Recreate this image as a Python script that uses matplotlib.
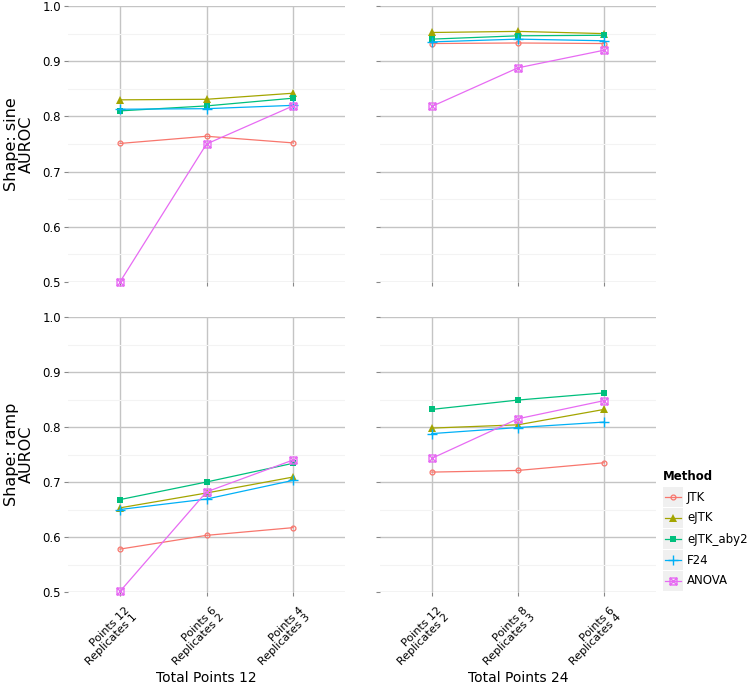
import numpy as np
import matplotlib
matplotlib.use("Agg")
import matplotlib.pyplot as plt
import matplotlib.transforms as mtransforms
from matplotlib import font_manager
from matplotlib.path import Path
from matplotlib.lines import Line2D
from matplotlib.patches import Rectangle

# data
methods = ["JTK", "eJTK", "eJTK_aby2", "F24", "ANOVA"]
labels_12 = ["Points 12\nReplicates 1", "Points 6\nReplicates 2", "Points 4\nReplicates 3"]
labels_24 = ["Points 12\nReplicates 2", "Points 8\nReplicates 3", "Points 6\nReplicates 4"]

sine_12 = {
    "JTK":       [0.751, 0.764, 0.752],
    "eJTK":      [0.830, 0.831, 0.842],
    "eJTK_aby2": [0.810, 0.819, 0.833],
    "F24":       [0.813, 0.814, 0.820],
    "ANOVA":     [0.500, 0.750, 0.819],
}
sine_24 = {
    "JTK":       [0.932, 0.933, 0.932],
    "eJTK":      [0.952, 0.954, 0.950],
    "eJTK_aby2": [0.940, 0.946, 0.947],
    "F24":       [0.935, 0.940, 0.937],
    "ANOVA":     [0.818, 0.888, 0.920],
}
ramp_12 = {
    "JTK":       [0.578, 0.603, 0.617],
    "eJTK":      [0.653, 0.680, 0.709],
    "eJTK_aby2": [0.668, 0.700, 0.734],
    "F24":       [0.650, 0.669, 0.703],
    "ANOVA":     [0.501, 0.682, 0.740],
}
ramp_24 = {
    "JTK":       [0.718, 0.721, 0.735],
    "eJTK":      [0.798, 0.804, 0.832],
    "eJTK_aby2": [0.832, 0.849, 0.862],
    "F24":       [0.788, 0.799, 0.809],
    "ANOVA":     [0.743, 0.815, 0.848],
}

colors = {"JTK": "#F8766D", "eJTK": "#A3A500", "eJTK_aby2": "#00BF7D",
          "F24": "#00B0F6", "ANOVA": "#E76BF3"}

# narrow font for the x labels if one is around
narrow = "DejaVu Sans"
for fam in ["DejaVu Sans Condensed", "Liberation Sans Narrow"]:
    try:
        font_manager.findfont(font_manager.FontProperties(family=fam), fallback_to_default=False)
        narrow = fam
        break
    except Exception:
        pass

# square with a cross, like ggplot shape 7
boxx = Path([(-1, -1), (1, -1), (1, 1), (-1, 1), (-1, -1), (-1, -1), (1, 1), (-1, 1), (1, -1)],
            [Path.MOVETO, Path.LINETO, Path.LINETO, Path.LINETO, Path.CLOSEPOLY,
             Path.MOVETO, Path.LINETO, Path.MOVETO, Path.LINETO])

styles = {
    "JTK":       dict(marker="o", ms=3.5, mfc="none", mew=0.9),
    "eJTK":      dict(marker="^", ms=5.5, mew=0),
    "eJTK_aby2": dict(marker="s", ms=4.5, mew=0),
    "F24":       dict(marker="+", ms=7, mew=1.0),
    "ANOVA":     dict(marker=boxx, ms=5, mfc="none", mew=1.0),
}

W, H = 750, 685
fig = plt.figure(figsize=(W / 100, H / 100), dpi=100)

def px_axes(x0, y0, x1, y1):
    return fig.add_axes([x0 / W, 1 - y1 / H, (x1 - x0) / W, (y1 - y0) / H])

panels = [
    (px_axes(68, 6, 345, 282), sine_12, labels_12, "Shape: sine\nAUROC"),
    (px_axes(380, 6, 656, 282), sine_24, labels_24, None),
    (px_axes(68, 317, 345, 592), ramp_12, labels_12, "Shape: ramp\nAUROC"),
    (px_axes(380, 317, 656, 592), ramp_24, labels_24, None),
]

shift = mtransforms.ScaledTranslation(5 / 100, -6 / 100, fig.dpi_scale_trans)

x = np.arange(1, 4)
for i, (ax, data, xlabels, ylab) in enumerate(panels):
    ax.set_xlim(0.4, 3.6)
    ax.set_ylim(0.5, 1.0)
    ax.set_yticks(np.arange(0.5, 1.01, 0.1))
    ax.set_yticks(np.arange(0.55, 1.0, 0.1), minor=True)
    ax.set_xticks(x)
    ax.grid(True, which="major", color="#C4C4C4", lw=1.0)
    ax.grid(True, which="minor", axis="y", color="#F3F3F3", lw=0.8)
    ax.set_axisbelow(True)
    for s in ax.spines.values():
        s.set_visible(False)
    ax.tick_params(which="major", length=3, color="#888888", labelsize=8.5, pad=2)
    ax.tick_params(which="minor", length=0)
    if i in (0, 2):
        ax.set_yticklabels(["%.1f" % v for v in np.arange(0.5, 1.01, 0.1)])
        ax.set_ylabel(ylab, fontsize=11.5, labelpad=6, linespacing=1.0)
    else:
        ax.set_yticklabels([])
    if i >= 2:
        ax.set_xticklabels(xlabels, rotation=45, ha="right", va="top", rotation_mode="anchor",
                           fontsize=8, family=narrow, linespacing=1.0)
        for t in ax.get_xticklabels():
            t.set_transform(t.get_transform() + shift)
    else:
        ax.set_xticklabels([])
    for m in methods:
        ax.plot(x, data[m], color=colors[m], lw=0.9, clip_on=False, zorder=3,
                mec=colors[m], mfc=styles[m].get("mfc", colors[m]),
                **{k: v for k, v in styles[m].items() if k != "mfc"})

fig.text(206 / W, 1 - 682 / H, "Total Points 12", ha="center", va="baseline",
         fontsize=10, family=narrow)
fig.text(518 / W, 1 - 682 / H, "Total Points 24", ha="center", va="baseline",
         fontsize=10, family=narrow)

# legend drawn by hand to get the grey key boxes
fig.text(663 / W, 1 - 476 / H, "Method", fontsize=8.5, fontweight="bold", va="center")
for j, m in enumerate(methods):
    yc = 497 + 21 * j
    fig.patches.append(Rectangle((663 / W, 1 - (yc + 10) / H), 20 / W, 20 / H,
                                 transform=fig.transFigure, facecolor="#F0F0F0",
                                 edgecolor="none"))
    fig.lines.append(Line2D([665 / W, 681 / W], [1 - yc / H] * 2, transform=fig.transFigure,
                            color=colors[m], lw=0.9))
    fig.lines.append(Line2D([673 / W], [1 - yc / H], transform=fig.transFigure,
                            color=colors[m], ls="none", mec=colors[m],
                            mfc=styles[m].get("mfc", colors[m]),
                            **{k: v for k, v in styles[m].items() if k != "mfc"}))
    fig.text(687 / W, 1 - yc / H, m, fontsize=8.5, va="center")

fig.savefig("out.png", dpi=100, facecolor="white")
